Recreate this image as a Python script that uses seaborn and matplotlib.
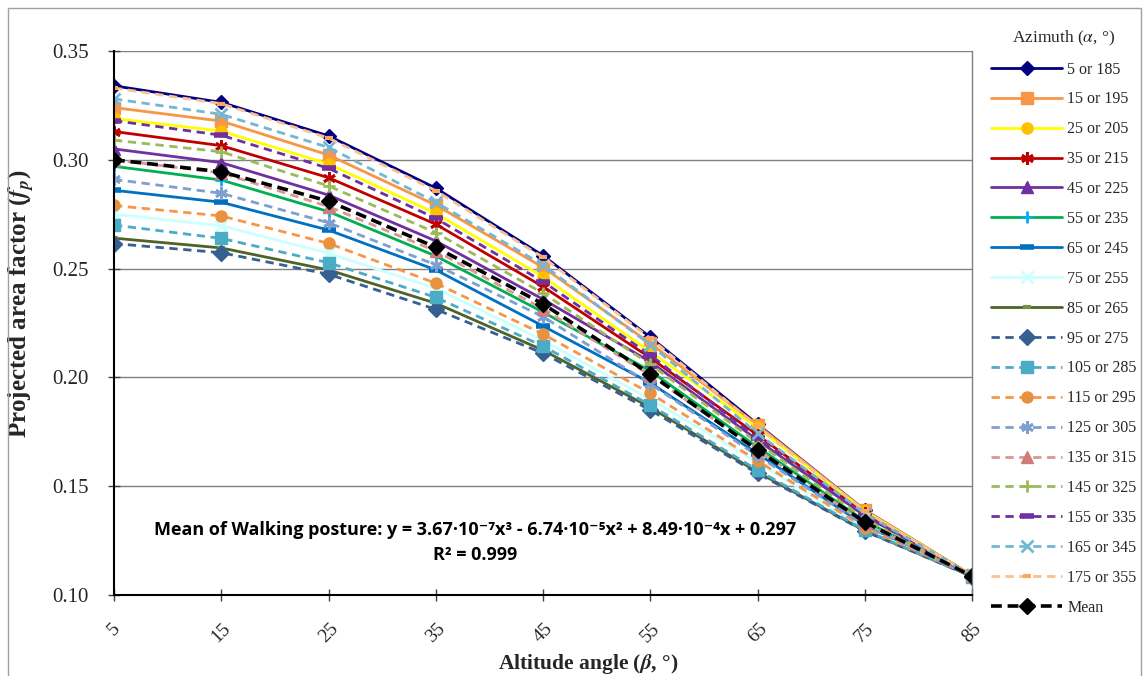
import matplotlib
matplotlib.use("Agg")
import matplotlib.pyplot as plt
import seaborn as sns
import pandas as pd
from matplotlib.patches import Rectangle

# ---------------- data ----------------
altitude = [5, 15, 25, 35, 45, 55, 65, 75, 85]

azimuth_labels = ["5 or 185", "15 or 195", "25 or 205", "35 or 215", "45 or 225",
                  "55 or 235", "65 or 245", "75 or 255", "85 or 265", "95 or 275",
                  "105 or 285", "115 or 295", "125 or 305", "135 or 315", "145 or 325",
                  "155 or 335", "165 or 345", "175 or 355"]

fp_az005 = [0.334, 0.3264, 0.3110, 0.2870, 0.2560, 0.2185, 0.1785, 0.1390, 0.1090]
fp_az015 = [0.324, 0.3178, 0.3022, 0.2792, 0.2506, 0.2157, 0.1781, 0.1390, 0.1090]
fp_az025 = [0.319, 0.3132, 0.2981, 0.2754, 0.2463, 0.2118, 0.1770, 0.1385, 0.1090]
fp_az035 = [0.313, 0.3065, 0.2918, 0.2704, 0.2417, 0.2090, 0.1735, 0.1375, 0.1090]
fp_az045 = [0.305, 0.2987, 0.2838, 0.2627, 0.2359, 0.2072, 0.1712, 0.1365, 0.1088]
fp_az055 = [0.297, 0.2907, 0.2762, 0.2558, 0.2300, 0.2030, 0.1680, 0.1340, 0.1088]
fp_az065 = [0.286, 0.2805, 0.2677, 0.2494, 0.2236, 0.1975, 0.1650, 0.1320, 0.1086]
fp_az075 = [0.275, 0.2697, 0.2570, 0.2410, 0.2170, 0.1900, 0.1610, 0.1305, 0.1085]
fp_az085 = [0.264, 0.2595, 0.2494, 0.2341, 0.2125, 0.1862, 0.1565, 0.1295, 0.1085]
fp_az095 = [0.2615, 0.2573, 0.2474, 0.2313, 0.2111, 0.1850, 0.1559, 0.1293, 0.1085]
fp_az105 = [0.270, 0.2639, 0.2527, 0.2368, 0.2144, 0.1873, 0.1574, 0.1298, 0.1085]
fp_az115 = [0.279, 0.2742, 0.2616, 0.2433, 0.2199, 0.1927, 0.1617, 0.1310, 0.1086]
fp_az125 = [0.291, 0.2846, 0.2711, 0.2517, 0.2279, 0.1970, 0.1640, 0.1320, 0.1087]
fp_az135 = [0.300, 0.2940, 0.2785, 0.2581, 0.2315, 0.2010, 0.1668, 0.1330, 0.1088]
fp_az145 = [0.309, 0.3037, 0.2880, 0.2665, 0.2387, 0.2060, 0.1700, 0.1350, 0.1088]
fp_az155 = [0.318, 0.3113, 0.2961, 0.2731, 0.2440, 0.2103, 0.1720, 0.1365, 0.1089]
fp_az165 = [0.328, 0.3209, 0.3057, 0.2805, 0.2517, 0.2150, 0.1743, 0.1375, 0.1090]
fp_az175 = [0.333, 0.3258, 0.3100, 0.2858, 0.2552, 0.2180, 0.1775, 0.1385, 0.1090]

fp_mean = [0.300, 0.2945, 0.2810, 0.2598, 0.2338, 0.2015, 0.1666, 0.1335, 0.1087]

fp_series = [fp_az005, fp_az015, fp_az025, fp_az035, fp_az045, fp_az055, fp_az065,
             fp_az075, fp_az085, fp_az095, fp_az105, fp_az115, fp_az125, fp_az135,
             fp_az145, fp_az155, fp_az165, fp_az175]

y_ticks = [0.10, 0.15, 0.20, 0.25, 0.30, 0.35]

rows = []
for lab, vals in zip(azimuth_labels, fp_series):
    for a, v in zip(altitude, vals):
        rows.append({"azimuth": lab, "altitude": a, "fp": v})
for a, v in zip(altitude, fp_mean):
    rows.append({"azimuth": "Mean", "altitude": a, "fp": v})
df = pd.DataFrame(rows)

# ---------------- styles ----------------
STAR = (6, 2, 0)
solid = "-"
dash = (0, (3, 2))
styles = [
    # line color, marker, marker color, marker size, mew, linestyle
    ("#000080", "D", "#000080", 7, 1, solid),
    ("#F79646", "s", "#F79646", 8, 1, solid),
    ("#FFFF00", "o", "#FFC000", 8, 1, solid),
    ("#C00000", STAR, "#C00000", 9, 2, solid),
    ("#7030A0", "^", "#7030A0", 8, 1, solid),
    ("#00B050", "+", "#00B0F0", 9, 2, solid),
    ("#0070C0", "_", "#0070C0", 10, 4, solid),
    ("#CCFFFF", "x", "#CCFFFF", 9, 2, solid),
    ("#4F6228", "_", "#77933C", 6, 3, solid),
    ("#376092", "D", "#376092", 8, 1, dash),
    ("#4BACC6", "s", "#4BACC6", 8, 1, dash),
    ("#F79646", "o", "#E9913F", 8, 1, dash),
    ("#7F9FCF", STAR, "#7F9FCF", 9, 2, dash),
    ("#D99694", "^", "#D07C79", 8, 1, dash),
    ("#9BBB59", "+", "#9BBB59", 9, 2, dash),
    ("#7030A0", "_", "#7030A0", 10, 4, dash),
    ("#72B7D4", "x", "#72B7D4", 9, 2, dash),
    ("#FAC090", "_", "#FAA860", 6, 3, dash),
]

sns.set_theme(style="white")
plt.rcParams["font.family"] = ["Liberation Serif", "DejaVu Serif"]
plt.rcParams["mathtext.fontset"] = "stix"

fig = plt.figure(figsize=(11.44, 6.76), dpi=100)
ax = fig.add_axes([114 / 1144, 1 - 595 / 676, (972 - 114) / 1144, (595 - 51) / 676])

for lab, st in zip(azimuth_labels, styles):
    lc, mk, mc, ms, mew, ls = st
    sns.lineplot(data=df[df["azimuth"] == lab], x="altitude", y="fp", ax=ax,
                 color=lc, linewidth=2, linestyle=ls, marker=mk, markersize=ms,
                 markerfacecolor=mc, markeredgecolor=mc, markeredgewidth=mew,
                 label=lab, legend=False, errorbar=None)

sns.lineplot(data=df[df["azimuth"] == "Mean"], x="altitude", y="fp", ax=ax,
             color="black", linewidth=2.6, linestyle=(0, (3, 1.6)), marker="D",
             markersize=8, markerfacecolor="black", markeredgecolor="black",
             markeredgewidth=1, label="Mean", legend=False, errorbar=None)

ax.set_xlim(altitude[0], altitude[-1])
ax.set_ylim(y_ticks[0], y_ticks[-1])
ax.set_xticks(altitude)
ax.set_xticklabels([str(a) for a in altitude], rotation=45, ha="center", va="top")
ax.set_yticks(y_ticks)
ax.set_yticklabels([f"{t:.2f}" for t in y_ticks])
ax.tick_params(axis="x", direction="inout", length=8, width=1, color="#404040",
               labelsize=14, pad=14, bottom=True)
ax.tick_params(axis="y", direction="inout", length=8, width=1, color="#404040",
               labelsize=15, pad=14, left=True)

ax.yaxis.grid(True, color="#808080", linewidth=1)
ax.xaxis.grid(False)
for s in ["left", "bottom"]:
    ax.spines[s].set_color("black")
    ax.spines[s].set_linewidth(1.5)
ax.spines["top"].set_visible(False)
ax.spines["right"].set_color("#808080")
ax.spines["right"].set_linewidth(1)

ax.set_xlabel(r"Altitude angle ($\mathbfit{\beta}$, °)", fontsize=15.5,
              fontweight="bold")
ax.set_ylabel(r"Projected area factor ($\mathbfit{f}_{\mathbfit{p}}$)", fontsize=18,
              fontweight="bold")
ax.xaxis.set_label_coords((588 - 114) / 858, -0.105)
ax.yaxis.set_label_coords((36 - 114) / 858, 0.535)

sans = ["Liberation Sans Narrow", "Open Sans", "DejaVu Sans"]
ax.text(0.4207, 0.1195,
        "Mean of Walking posture: y = 3.67·10⁻⁷x³ - 6.74·10⁻⁵x² + 8.49·10⁻⁴x + 0.297",
        transform=ax.transAxes, ha="center", va="center", fontsize=13,
        fontweight="bold", family=sans, color="black")
ax.text(0.4207, 0.0735, "R² = 0.999", transform=ax.transAxes, ha="center",
        va="center", fontsize=13, fontweight="bold", family=sans, color="black")

handles, labels = ax.get_legend_handles_labels()
leg = ax.legend(handles, labels, title=r"Azimuth ($\alpha$, °)", loc="upper left",
                bbox_to_anchor=(985 / 1144, 1 - 22 / 676), bbox_transform=fig.transFigure,
                frameon=False, fontsize=11.5, title_fontsize=12.5, handlelength=4.4,
                handletextpad=0.35, labelspacing=0.87, borderaxespad=0, numpoints=1)

fig.patches.append(Rectangle((8 / 1144, -0.01), (1141 - 8) / 1144, 1.01 - 8 / 676,
                             transform=fig.transFigure, fill=False,
                             edgecolor="#A0A0A0", linewidth=1))

fig.savefig("out.png", dpi=100)
